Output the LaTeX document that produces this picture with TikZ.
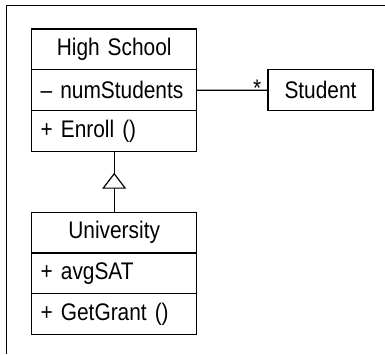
\documentclass[tikz,border=0pt]{standalone}
\usepackage{fontspec}
\setmainfont[FakeStretch=0.87]{Liberation Sans}
\usetikzlibrary{positioning,arrows.meta,decorations.markings}

\tikzset{
  classrow/.style={rectangle, draw=black, line width=1.2pt, outer sep=0pt, inner xsep=9pt,
    minimum height=40.8pt, text width=147pt, font=\fontsize{24}{28}\selectfont},
  classname/.style={classrow, align=center},
  classmember/.style={classrow, align=left},
}

\begin{document}
\begin{tikzpicture}[x=1pt,y=1pt]
		\useasboundingbox (0,0) rectangle (385,-354);
		\draw[line width=1.3pt] (6.5,-354) -- (6.5,-5.8) -- (385,-5.8);

		\node[classname] (hsname) at (114.2,-49.4) {High School};
		\node[classmember, below=0pt of hsname] (hsattr) {– numStudents};
		\node[classmember, below=0pt of hsattr] (hsops) {+ Enroll ()};

		\node[classname] (uniname) at (114.2,-232.6) {University};
		\node[classmember, below=0pt of uniname] (uniattr) {+ avgSAT};
		\node[classmember, below=0pt of uniattr] (uniops) {+ GetGrant ()};

		\node[rectangle, draw=black, line width=1.2pt, outer sep=0pt, minimum width=105pt, minimum height=41pt,
		  font=\fontsize{24}{28}\selectfont] (student) at (320.5,-90.3) {Student};
		\node[anchor=base east, inner sep=0pt, font=\fontsize{24}{28}\selectfont] (mult)
		  at ([xshift=-6.5pt,yshift=-6pt]student.west) {*};

		\draw[line width=1.2pt] (hsattr.east) -- (student.west);
		\draw[line width=1.2pt, postaction={decorate}, decoration={markings,
		  mark=at position 39.5pt with {\arrow[line width=1.2pt]{Triangle[length=16pt, width=24pt, fill=white]}}}]
		  (uniname.north) -- (hsops.south);
	\end{tikzpicture}
\end{document}
